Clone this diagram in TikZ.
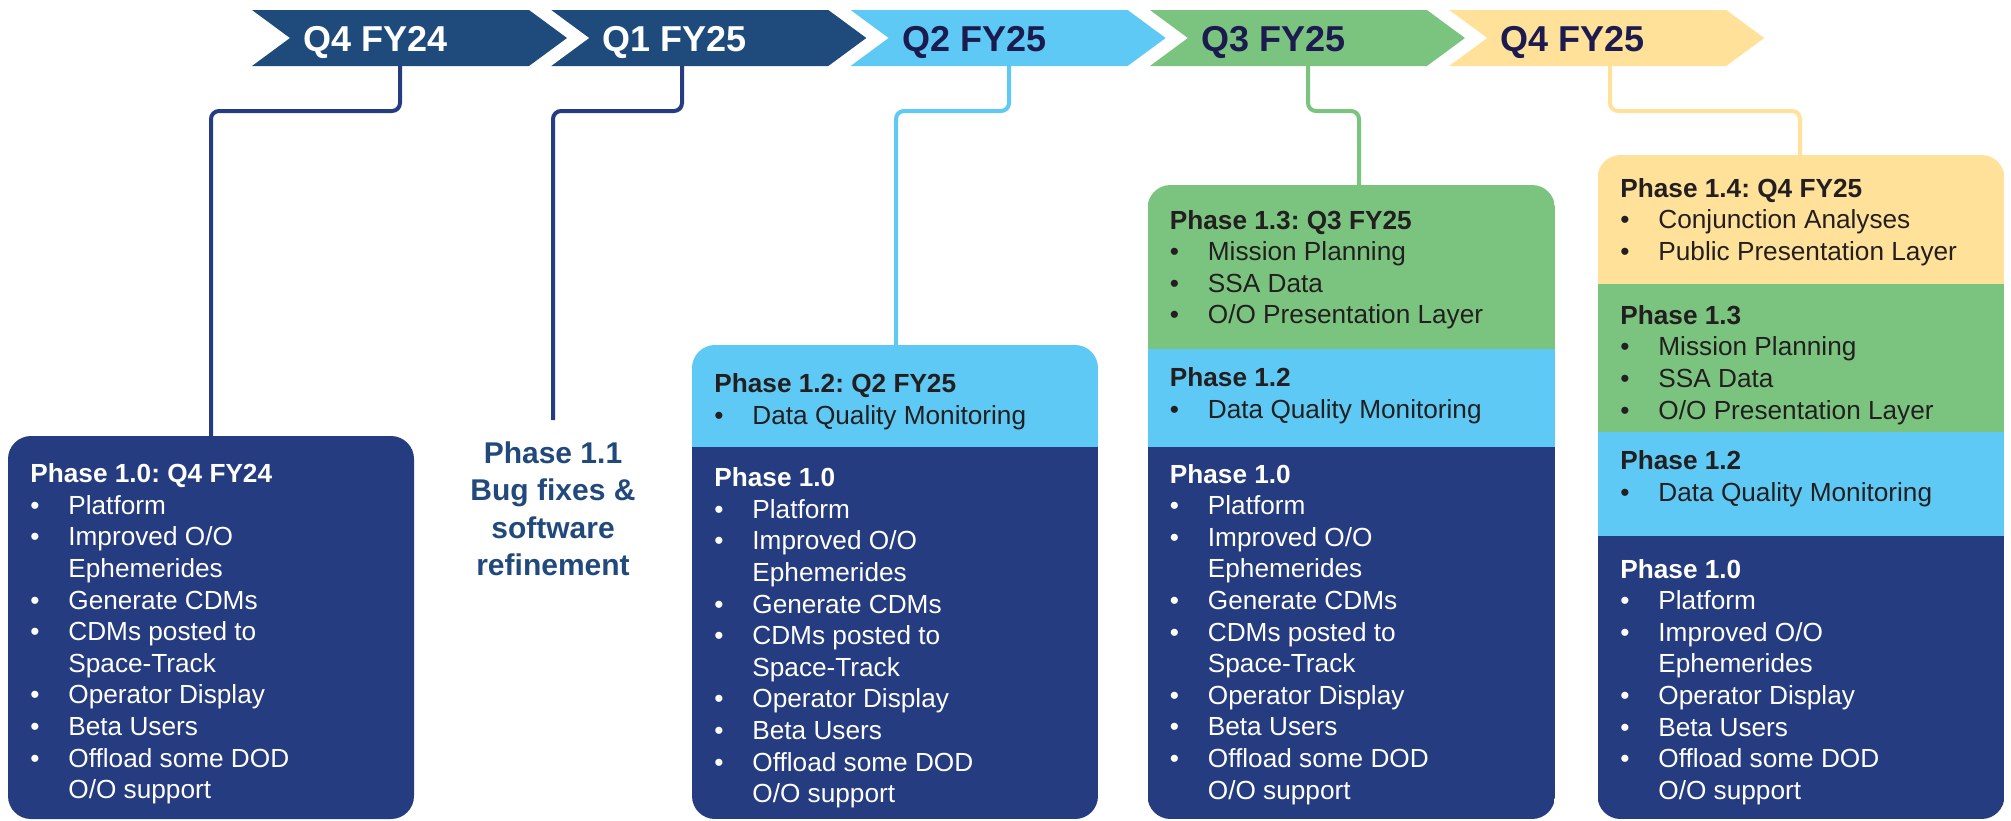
\documentclass[tikz,border=0pt]{standalone}
\usepackage{fontspec}
\setmainfont{Liberation Sans}
\usepackage{array}
\frenchspacing
\definecolor{navy}{HTML}{263C80}
\definecolor{chevblue}{HTML}{1F4A7C}
\definecolor{lblue}{HTML}{5DC9F4}
\definecolor{lgreen}{HTML}{7BC47F}
\definecolor{lyellow}{HTML}{FFE199}
\definecolor{chevtext}{HTML}{1C1B4F}
\definecolor{darktext}{HTML}{231F20}
\definecolor{ponecolor}{HTML}{22497C}
\newcommand{\sect}[2]{\begin{tabular}[t]{@{}p{19pt}@{}l@{}}\multicolumn{2}{@{}l@{}}{\bfseries #1}\\ #2\end{tabular}}
\newcommand{\bi}[1]{\textbullet & #1\\}
\newcommand{\ci}[1]{& #1\\}
\tikzset{
  sectext/.style={anchor=base west, inner sep=0pt, font=\fontsize{13.1}{15.8}\selectfont},
  chevlabel/.style={anchor=base west, inner sep=0pt, font=\fontsize{18}{21.6}\selectfont\bfseries},
  conn/.style={line width=2pt, rounded corners=4pt},
  boxclip/.style={rounded corners=11.5pt}
}
\begin{document}
\begin{tikzpicture}[x=0.5pt, y=-0.5pt]
\useasboundingbox (0,0) rectangle (2011,820);

% chevrons
\foreach \i/\lab/\fc/\tc in {0/Q4 FY24/chevblue/white, 1/Q1 FY25/chevblue/white, 2/Q2 FY25/lblue/chevtext, 3/Q3 FY25/lgreen/chevtext, 4/Q4 FY25/lyellow/chevtext}{
  \pgfmathsetmacro\L{252+299.3*\i}
  \fill[\fc] (\L,10) -- (\L+277,10) -- (\L+315,38) -- (\L+277,66) -- (\L,66) -- (\L+38,38) -- cycle;
  \node[chevlabel, text=\tc] (chev\i) at (\L+51,51) {\lab};
}

% connector points
\coordinate (k0) at (400,66);
\coordinate (k1) at (682,66);
\coordinate (k2) at (1009,66);
\coordinate (k3) at (1308,66);
\coordinate (k4) at (1610,66);
\coordinate (b0) at (211,437);
\coordinate (b1) at (553,420);
\coordinate (b2) at (896,346);
\coordinate (b3) at (1359,186);
\coordinate (b4) at (1800,156);

\draw[conn, navy] (k0) -- ++(0,45) -| (b0);
\draw[conn, navy] (k1) -- ++(0,45) -| (b1);
\draw[conn, lblue] (k2) -- ++(0,45) -| (b2);
\draw[conn, lgreen] (k3) -- ++(0,45) -| (b3);
\draw[conn, lyellow] (k4) -- ++(0,45) -| (b4);

% box 1
\fill[navy, boxclip] (8,436) rectangle (414,819);
\node[sectext, text=white] (t10a) at (30,482.7) {\sect{Phase 1.0: Q4 FY24}{%
\bi{Platform}\bi{Improved O/O}\ci{Ephemerides}\bi{Generate CDMs}\bi{CDMs posted to}\ci{Space-Track}\bi{Operator Display}\bi{Beta Users}\bi{Offload some DOD}\ci{O/O support}}};

% phase 1.1
\node[anchor=base, inner sep=0pt, font=\fontsize{15}{18.75}\selectfont\bfseries, text=ponecolor] (p11) at (553,463)
  {\begin{tabular}[t]{@{}c@{}}Phase 1.1\\Bug fixes \&\\software\\refinement\end{tabular}};

% box 3
\begin{scope}
\clip[boxclip] (692,345) rectangle (1098,819);
\fill[lblue] (692,345) rectangle (1098,447.5);
\fill[navy] (692,447) rectangle (1098,819);
\end{scope}
\node[sectext, text=darktext] (t12a) at (714,392.7) {\sect{Phase 1.2: Q2 FY25}{\bi{Data Quality Monitoring}}};
\node[sectext, text=white] (t10b) at (714,486.7) {\sect{Phase 1.0}{%
\bi{Platform}\bi{Improved O/O}\ci{Ephemerides}\bi{Generate CDMs}\bi{CDMs posted to}\ci{Space-Track}\bi{Operator Display}\bi{Beta Users}\bi{Offload some DOD}\ci{O/O support}}};

% box 4
\begin{scope}
\clip[boxclip] (1147.5,185) rectangle (1555,819);
\fill[lgreen] (1147.5,185) rectangle (1555,349.5);
\fill[lblue] (1147.5,349) rectangle (1555,447.5);
\fill[navy] (1147.5,447) rectangle (1555,819);
\end{scope}
\node[sectext, text=darktext] (t13a) at (1169.5,229) {\sect{Phase 1.3: Q3 FY25}{\bi{Mission Planning}\bi{SSA Data}\bi{O/O Presentation Layer}}};
\node[sectext, text=darktext] (t12b) at (1169.5,386.6) {\sect{Phase 1.2}{\bi{Data Quality Monitoring}}};
\node[sectext, text=white] (t10c) at (1169.5,483) {\sect{Phase 1.0}{%
\bi{Platform}\bi{Improved O/O}\ci{Ephemerides}\bi{Generate CDMs}\bi{CDMs posted to}\ci{Space-Track}\bi{Operator Display}\bi{Beta Users}\bi{Offload some DOD}\ci{O/O support}}};

% box 5
\begin{scope}
\clip[boxclip] (1597.5,155) rectangle (2004.5,819);
\fill[lyellow] (1597.5,155) rectangle (2004.5,284.5);
\fill[lgreen] (1597.5,284) rectangle (2004.5,432);
\fill[lblue] (1597.5,431.5) rectangle (2004.5,536);
\fill[navy] (1597.5,535.5) rectangle (2004.5,819);
\end{scope}
\node[sectext, text=darktext] (t14a) at (1620,197.2) {\sect{Phase 1.4: Q4 FY25}{\bi{Conjunction Analyses}\bi{Public Presentation Layer}}};
\node[sectext, text=darktext] (t13b) at (1620,324.3) {\sect{Phase 1.3}{\bi{Mission Planning}\bi{SSA Data}\bi{O/O Presentation Layer}}};
\node[sectext, text=darktext] (t12c) at (1620,469.6) {\sect{Phase 1.2}{\bi{Data Quality Monitoring}}};
\node[sectext, text=white] (t10d) at (1620,578) {\sect{Phase 1.0}{%
\bi{Platform}\bi{Improved O/O}\ci{Ephemerides}\bi{Operator Display}\bi{Beta Users}\bi{Offload some DOD}\ci{O/O support}}};
\end{tikzpicture}
\end{document}
